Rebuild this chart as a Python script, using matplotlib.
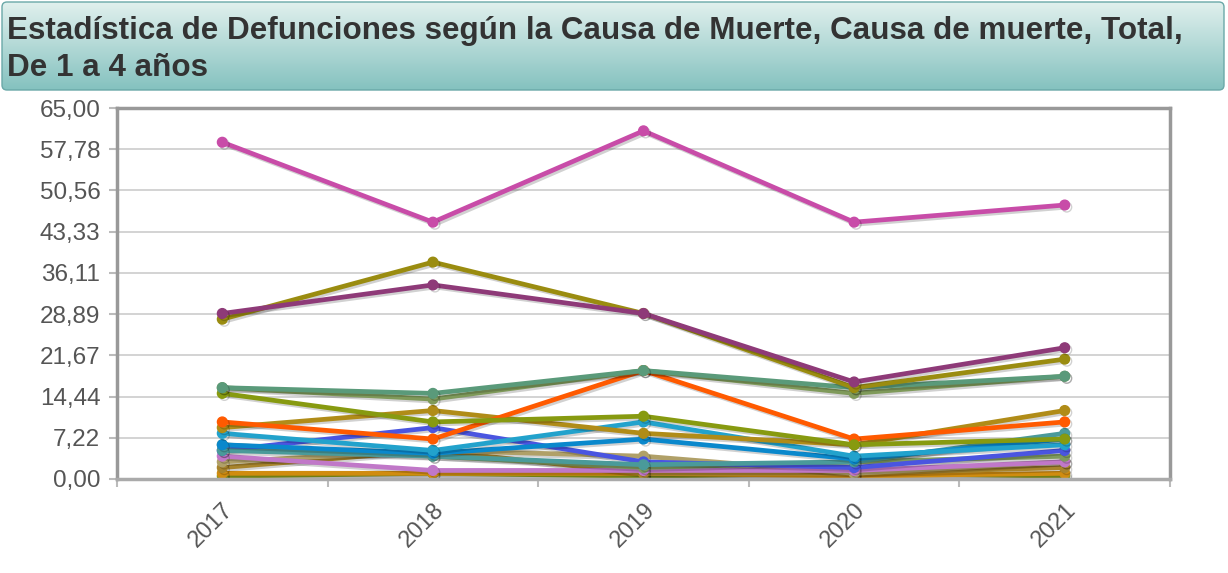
import matplotlib
matplotlib.use("Agg")
import matplotlib.pyplot as plt
import matplotlib.patheffects as pe
from matplotlib.patches import FancyBboxPatch
import numpy as np

plt.rcParams['font.family'] = ['Liberation Sans', 'DejaVu Sans']

# data
years = ["2017", "2018", "2019", "2020", "2021"]
pink = [59, 45, 61, 45, 48]
purple = [29, 34, 29, 17, 23]
olive = [28, 38, 29, 16, 21]
teal_green = [16, 15, 19, 16, 18]
sage = [16, 14, 19, 15, 18]
olive_green = [15, 10, 11, 6, 7]
orange = [10, 7, 19, 7, 10]
golden = [9, 12, 8, 6, 12]
light_blue = [8, 5, 10, 4, 6]
blue = [6, 4.5, 7, 3.5, 7]
teal = [5, 4, 2.5, 3, 8]
violet = [5, 9, 3, 2, 5]
grey_green = [6, 4, 2, 3, 4]
lilac = [4, 1.5, 1.5, 1.5, 3]
tan = [3, 5, 4, 1, 3]
brown = [2, 5, 1, 1, 2]
orange_gold = [1, 1, 1, 0.5, 1]
olive_small = [0.5, 1, 0.5, 1, 0.5]

series = [
    (olive_small, "#8a9a18"), (orange_gold, "#d08c10"), (brown, "#a8842c"),
    (tan, "#b0a068"), (lilac, "#c078c8"), (grey_green, "#7f9a5e"),
    (violet, "#4a55e0"), (teal, "#4a9a9a"), (blue, "#0a88cc"),
    (light_blue, "#22a2cc"), (golden, "#b08c18"), (orange, "#ff5a00"),
    (olive_green, "#879a10"), (sage, "#7f9a5a"), (teal_green, "#5a9a7a"),
    (olive, "#9a8c10"), (purple, "#8e3a78"), (pink, "#c84ca8"),
]

fig = plt.figure(figsize=(12.28, 5.73), dpi=100)

# title banner with gradient
bx = fig.add_axes([0, 0, 1, 1], zorder=-1)
bx.set_xlim(0, 1228)
bx.set_ylim(573, 0)
bx.axis("off")
grad = np.linspace(0, 1, 100).reshape(-1, 1)
c1 = np.array([0.88, 0.94, 0.93])
c2 = np.array([0.52, 0.76, 0.75])
img = c1 + (c2 - c1) * grad[..., None]
img = np.repeat(img, 2, axis=1)
im = bx.imshow(img, extent=(2, 1224, 90, 2), aspect="auto")
box = FancyBboxPatch((2, 2), 1222, 88, boxstyle="round,pad=0,rounding_size=5",
                     facecolor="none", edgecolor="#6aa8a8", linewidth=1)
bx.add_patch(box)
im.set_clip_path(box)
bx.text(7, 31, "Estadística de Defunciones según la Causa de Muerte, Causa de muerte, Total,",
        fontsize=22.6, fontweight="bold", color="#333333", va="center", ha="left")
bx.text(7, 68, "De 1 a 4 años", fontsize=22.6, fontweight="bold",
        color="#333333", va="center", ha="left")

ax = fig.add_axes([117/1228, 1-479/573, (1170-117)/1228, (479-108)/573])
x = np.arange(len(years))
for vals, col in series:
    ax.plot(x, vals, color=col, linewidth=3.4, marker="o", markersize=7,
            solid_capstyle="round",
            path_effects=[pe.SimpleLineShadow(offset=(1.5, -1.5), alpha=0.18), pe.Normal()])

yt = np.linspace(0, 65, 10)
ax.set_ylim(0, 65)
ax.set_yticks(yt)
ax.set_yticklabels([f"{v:.2f}".replace(".", ",") for v in yt], fontsize=17.5, color="#555555")
ax.set_xlim(-0.5, 4.5)
ax.set_xticks(x)
ax.set_xticklabels(years, rotation=45, ha="right", rotation_mode="anchor",
                   fontsize=17, color="#555555")
ax.set_xticks(np.arange(-0.5, 5, 1), minor=True)
ax.tick_params(axis="x", which="major", length=0, pad=14)
ax.tick_params(axis="x", which="minor", length=6, color="#bbbbbb", width=1.5)
ax.tick_params(axis="y", length=6, color="#bbbbbb", width=1.5, pad=6)
ax.grid(axis="y", color="#cccccc", linewidth=1.2)
ax.set_axisbelow(True)
for s in ax.spines.values():
    s.set_color("#999999")
    s.set_linewidth(2.5)
ax.spines["bottom"].set_color("#aaaaaa")

fig.savefig("out.png", dpi=100)
